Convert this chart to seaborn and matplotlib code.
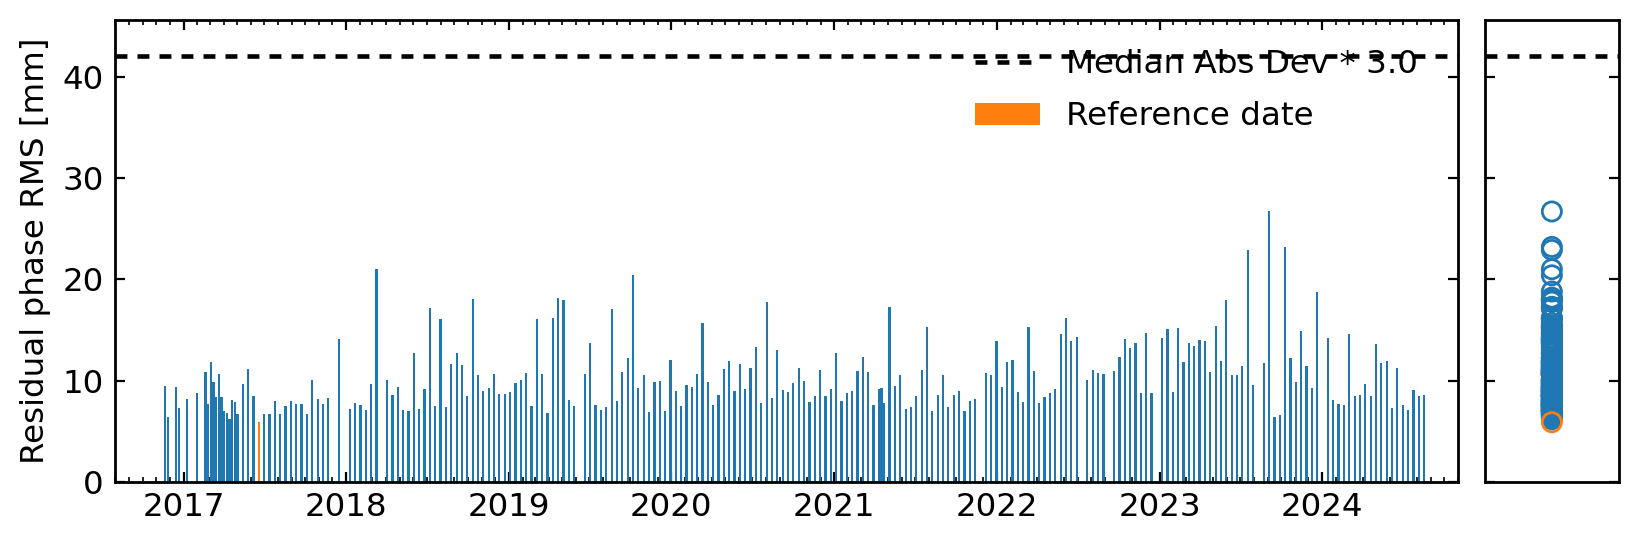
import numpy as np
import pandas as pd
import matplotlib
matplotlib.use("Agg")
import matplotlib.pyplot as plt
import matplotlib.dates as mdates
from matplotlib.lines import Line2D
from matplotlib.patches import Patch
import seaborn as sns

# ---------------- data ----------------
epoch = "2017-01-01"
# acquisition dates, in days after the epoch
acq_day = [
    -41, -35, -17, -11, 7, 31, 49, 55, 61, 67, 73, 79, 85, 91, 97, 103, 109, 115, 121,
    133, 145, 157, 169, 181, 193, 205, 217, 229, 241, 253, 265, 277, 289, 301, 313, 325, 349,
    373, 385, 397, 409, 421, 433, 457, 469, 481, 493, 505, 517, 529, 541, 553, 565, 577,
    589, 601, 613, 625, 637, 649, 661, 673, 685, 697, 709, 721, 733, 745, 757, 769, 781, 793,
    805, 817, 829, 841, 853, 865, 877, 901, 913, 925, 937, 949, 961, 973, 985, 997, 1009,
    1021, 1033, 1045, 1057, 1069, 1081, 1093, 1105, 1117, 1129, 1141, 1153, 1165, 1177,
    1189, 1201, 1213, 1225,
    1237, 1249, 1261, 1273, 1285, 1297, 1309, 1321, 1333, 1345, 1357, 1369, 1381, 1393,
    1405, 1417, 1429, 1441, 1453, 1465, 1477, 1489, 1501, 1513, 1525, 1537, 1549, 1561,
    1567, 1573, 1585, 1597, 1609, 1621, 1633, 1645,
    1657, 1669, 1681, 1693, 1705, 1717, 1729, 1741, 1753, 1765, 1777, 1801, 1813, 1825,
    1837, 1849, 1861, 1873, 1885, 1897, 1909, 1921, 1933, 1945, 1957, 1969, 1981, 1993,
    2005, 2029, 2041, 2053, 2065,
    2089, 2101, 2113, 2125, 2137, 2149, 2161, 2173, 2197, 2209, 2221, 2233, 2245, 2257,
    2269, 2281, 2293, 2305, 2317, 2329, 2341, 2353, 2365, 2377, 2389, 2401, 2425, 2437,
    2449, 2461, 2473, 2485, 2497,
    2509, 2521, 2533, 2545, 2569, 2581, 2593, 2605, 2617, 2629, 2641, 2653, 2665, 2677,
    2689, 2701, 2713, 2725, 2737, 2749, 2761, 2773, 2785,
]
rms_mm = [
    9.5, 6.4, 9.4, 7.3, 8.2, 8.8, 10.9, 7.7, 11.8, 9.9, 8.4, 10.7, 8.4, 7.0, 6.8, 6.2, 8.1, 7.9, 6.7,
    9.7, 11.2, 8.5, 5.9, 6.7, 6.7, 8.0, 6.7, 7.5, 8.0, 7.7, 7.7, 6.7, 10.1, 8.2, 7.7, 8.3, 14.1,
    7.2, 7.8, 7.6, 7.1, 9.7, 21.0, 10.1, 8.6, 9.4, 7.1, 7.0, 12.7, 7.2, 9.2, 17.2, 7.5, 16.1,
    7.4, 11.6, 12.7, 11.5, 8.5, 18.1, 10.6, 9.0, 9.3, 10.7, 8.7, 8.7, 8.9, 9.8, 10.1, 10.8, 7.5, 16.1,
    10.7, 6.8, 16.2, 18.2, 18.0, 8.1, 7.5, 10.7, 13.7, 7.6, 7.1, 7.4, 17.1, 8.0, 10.9, 12.2, 20.4,
    9.3, 10.6, 6.9, 9.9, 10.0, 7.0, 12.0, 9.0, 7.5, 9.6, 9.4, 10.7, 15.7, 9.9,
    7.6, 8.6, 11.2, 11.9,
    9.0, 11.6, 9.2, 11.3, 13.3, 7.8, 17.8, 8.3, 13.0, 9.1, 8.9, 9.8, 11.3, 10.0,
    7.9, 8.5, 11.1, 8.5, 9.2, 12.7, 8.0, 8.8, 9.0, 11.0, 12.3, 10.9, 7.6, 9.2,
    9.3, 7.8, 17.3, 9.5, 10.6, 7.2, 7.4, 8.5,
    11.1, 15.3, 7.0, 8.6, 10.6, 7.4, 8.6, 9.0, 7.0, 8.0, 8.2, 10.8, 10.6, 13.9,
    9.4, 11.8, 12.0, 8.9, 7.9, 15.3, 11.0, 7.8, 8.4, 8.8, 9.2, 14.6, 16.2, 13.9,
    14.3, 10.1, 11.1, 10.8, 10.7,
    11.0, 12.3, 14.1, 13.2, 13.7, 8.8, 14.7, 8.8, 14.2, 15.1, 8.9, 15.2, 11.8, 13.7,
    13.4, 14.0, 13.9, 10.9, 15.4, 11.9, 18.0, 10.6, 10.6, 11.4, 22.9, 9.6, 11.7, 26.7,
    6.4, 6.6, 23.2, 12.2, 9.9,
    14.9, 11.4, 9.3, 18.8, 14.2, 8.1, 7.7, 7.6, 14.6, 8.5, 8.6, 9.7, 8.5, 13.6,
    11.7, 11.9, 7.3, 11.3, 7.6, 7.1, 9.1, 8.5, 8.6,
]
reference_day = 169
mad_threshold = 42.0
legend_labels = ["Median Abs Dev * 3.0", "Reference date"]
y_label = "Residual phase RMS [mm]"
x_limits = ["2016-07-31", "2024-11-01"]
y_limits = [0, 45.6]
y_ticks = [0, 10, 20, 30, 40]

# ---------------- style ----------------
FS = 23.4
sns.set_theme(style="ticks")
plt.rcParams.update({
    "font.family": ["DejaVu Sans"],
    "font.size": FS,
    "axes.labelsize": FS,
    "legend.fontsize": FS,
    "axes.edgecolor": "black",
    "axes.linewidth": 2.0,
    "axes.labelcolor": "black",
    "text.color": "black",
    "xtick.color": "black",
    "ytick.color": "black",
    "xtick.labelsize": FS,
    "ytick.labelsize": FS,
    "xtick.direction": "in",
    "ytick.direction": "in",
    "xtick.top": True,
    "ytick.right": True,
    "xtick.major.size": 7,
    "xtick.major.width": 1.6,
    "xtick.minor.size": 3.5,
    "xtick.minor.width": 1.2,
    "ytick.major.size": 7,
    "ytick.major.width": 1.6,
    "xtick.major.pad": 7,
    "ytick.major.pad": 8,
})

blue = "#1f77b4"
orange = "#ff7f0e"

df = pd.DataFrame({
    "date": pd.Timestamp(epoch) + pd.to_timedelta(acq_day, unit="D"),
    "rms": rms_mm,
})
df["is_ref"] = np.array(acq_day) == reference_day

fig = plt.figure(figsize=(16.4, 5.45), dpi=100)
ax = fig.add_axes([0.0701, 0.1156, 0.889 - 0.0701, 0.9633 - 0.1156])
ax2 = fig.add_axes([0.9055, 0.1156, 0.987 - 0.9055, 0.9633 - 0.1156], sharey=ax)

colors = [orange if r else blue for r in df["is_ref"]]
ax.bar(df["date"], df["rms"], width=5.0, color=colors, linewidth=0)

LW = 3.3
dash = (0, (2.6, 2.2))
ax.axhline(mad_threshold, color="black", lw=LW, linestyle=dash)
ax2.axhline(mad_threshold, color="black", lw=LW, linestyle=dash)

ax.set_xlim(pd.Timestamp(x_limits[0]), pd.Timestamp(x_limits[1]))
ax.set_ylim(*y_limits)
ax.set_yticks(y_ticks)
ax.xaxis.set_major_locator(mdates.YearLocator())
ax.xaxis.set_major_formatter(mdates.DateFormatter("%Y"))
ax.xaxis.set_minor_locator(mdates.MonthLocator())
ax.set_ylabel(y_label, labelpad=8)
ax.set_xlabel("")

handles = [
    Line2D([0], [0], color="black", lw=LW, linestyle=dash),
    Patch(facecolor=orange, edgecolor="none"),
]
ax.legend(handles, legend_labels, loc="upper right", bbox_to_anchor=(0.992, 1.0),
          frameon=False, borderaxespad=0.5, labelspacing=0.65)

# right panel: distribution of values
main = df[~df["is_ref"]]
refp = df[df["is_ref"]]
ax2.scatter(np.zeros(len(main)), main["rms"], s=190, facecolors="none",
            edgecolors=blue, linewidths=2.0, zorder=3)
ax2.scatter(np.zeros(len(refp)), refp["rms"], s=190, facecolors="none",
            edgecolors=orange, linewidths=2.0, zorder=4)
ax2.set_xlim(-1, 1)
ax2.set_xticks([])
ax2.tick_params(axis="x", which="both", top=False, bottom=False)
ax2.tick_params(axis="y", left=True, right=True, labelleft=False)

fig.savefig("out.png", dpi=100)
